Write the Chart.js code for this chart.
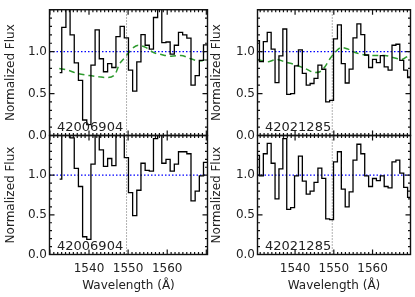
<!DOCTYPE html>
<html>
<head>
<meta charset="utf-8">
<title>CIV spectra</title>
<script src="https://cdn.jsdelivr.net/npm/chart.js@4.4.1/dist/chart.umd.min.js"></script>
<style>
  html, body { margin: 0; padding: 0; background: #fff; }
  #wrap { position: relative; width: 415px; height: 297px; }
  #wrap canvas { position: absolute; left: 0; top: 0; }
</style>
</head>
<body>
<div id="wrap">
  <canvas id="tl" width="415" height="297"></canvas>
  <canvas id="bl" width="415" height="297"></canvas>
  <canvas id="tr" width="415" height="297"></canvas>
  <canvas id="br" width="415" height="297"></canvas>
</div>
<script>
// --- 42006904 (left column) ---
const waveA = [1532.50, 1533.57, 1534.63, 1535.70, 1536.76, 1537.83, 1538.90, 1539.96, 1541.03, 1542.09,
  1543.16, 1544.23, 1545.29, 1546.36, 1547.42, 1548.49, 1549.56, 1550.62, 1551.69, 1552.75,
  1553.82, 1554.89, 1555.95, 1557.02, 1558.08, 1559.15, 1560.22, 1561.28, 1562.35, 1563.41,
  1564.48, 1565.55, 1566.61, 1567.68, 1568.74, 1569.81, 1570.88];
const fluxA = [0.75, 1.29, 1.70, 1.20, 0.865, 0.657, 0.185, 0.13, 0.838, 1.26,
  0.915, 0.76, 0.857, 0.811, 1.18, 1.30, 1.165, 0.78, 0.53, 0.877,
  1.203, 1.076, 1.03, 1.407, 1.65, 1.107, 1.115, 0.97, 1.076, 1.23,
  1.20, 1.16, 0.60, 0.715, 0.896, 1.08, 1.08];
const normA = [0.95, 1.62, 2.2, 1.47, 1.085, 0.857, 0.224, 0.19, 1.14, 1.72,
  1.32, 1.11, 1.21, 1.12, 1.52, 1.52, 1.22, 0.78, 0.49, 0.81,
  1.15, 1.06, 1.05, 1.46, 1.65, 1.15, 1.20, 1.05, 1.14, 1.295,
  1.295, 1.27, 0.675, 0.80, 0.99, 1.16, 1.16];
const contWaveA = [1532.4, 1534.5, 1537.0, 1540.0, 1542.5, 1544.5, 1546.5, 1547.9, 1549.2, 1550.9,
  1552.6, 1554.5, 1556.5, 1558.5, 1561.0, 1563.5, 1566.0, 1568.2, 1569.9, 1570.8];
const contA = [0.80, 0.78, 0.74, 0.715, 0.70, 0.69, 0.72, 0.86, 0.93, 1.03,
  1.076, 1.05, 0.99, 0.965, 0.946, 0.954, 0.915, 0.888, 0.915, 0.96];

// --- 42021285 (right column) ---
const waveB = [1530.30, 1531.31, 1532.31, 1533.32, 1534.33, 1535.33, 1536.34, 1537.35, 1538.35, 1539.36,
  1540.37, 1541.37, 1542.38, 1543.38, 1544.39, 1545.40, 1546.40, 1547.41, 1548.42, 1549.42,
  1550.43, 1551.44, 1552.44, 1553.45, 1554.46, 1555.46, 1556.47, 1557.48, 1558.48, 1559.49,
  1560.50, 1561.50, 1562.51, 1563.51, 1564.52, 1565.53, 1566.53, 1567.54, 1568.55, 1569.55, 1570.56];
const fluxB = [1.13, 0.88, 1.12, 1.23, 1.03, 0.63, 0.95, 1.27, 0.49, 0.50,
  0.83, 1.02, 0.74, 0.60, 0.62, 0.68, 0.84, 0.79, 0.40, 0.42,
  1.153, 1.318, 0.857, 0.626, 0.792, 1.165, 1.33, 1.203, 0.96, 0.811,
  0.907, 0.868, 0.953, 0.819, 0.78, 1.076, 1.088, 0.896, 0.78, 0.69, 0.69];
const normB = [1.25, 0.99, 1.27, 1.40, 1.15, 0.70, 1.08, 1.46, 0.57, 0.59,
  0.99, 1.24, 0.925, 0.76, 0.80, 0.91, 1.09, 0.96, 0.45, 0.44,
  1.168, 1.295, 0.823, 0.60, 0.79, 1.19, 1.39, 1.27, 0.99, 0.857,
  0.958, 0.93, 0.99, 0.857, 0.84, 1.168, 1.19, 1.025, 0.845, 0.72, 0.72];
const contWaveB = [1530.5, 1532.7, 1535.25, 1537.4, 1540.0, 1542.56, 1545.14, 1546.43, 1547.72, 1549.0,
  1550.3, 1552.0, 1553.7, 1555.5, 1558.0, 1560.6, 1563.2, 1565.8, 1567.5, 1569.4, 1570.3];
const contB = [0.907, 0.877, 0.907, 0.877, 0.845, 0.80, 0.75, 0.76, 0.82, 0.915,
  0.99, 1.05, 1.03, 0.99, 0.96, 0.954, 0.954, 0.923, 0.907, 0.954, 0.97];

const yTicks = [0, 0.5, 1.0];
const xTicks = [1540, 1550, 1560];
const lineCentre = 1549.6;

const W = 415, H = 297;
const FONT = { family: '"DejaVu Sans", sans-serif', size: 12 };
const INK = '#222';

// IDL style box: inward ticks on all four sides plus the object id
const framePlugin = {
  id: 'frame',
  afterDatasetsDraw(chart, args, opts) {
    const { ctx, chartArea: a, scales: { x, y } } = chart;
    ctx.save();
    ctx.strokeStyle = '#111';
    ctx.lineWidth = 1.2;
    ctx.beginPath();
    for (let i = 0; i <= 15; i++) {
      const py = y.getPixelForValue(i / 10);
      const len = i % 5 === 0 ? 5 : 2.5;
      ctx.moveTo(a.left, py); ctx.lineTo(a.left + len, py);
      ctx.moveTo(a.right, py); ctx.lineTo(a.right - len, py);
    }
    for (let w = Math.ceil(x.min); w <= x.max; w++) {
      const px = x.getPixelForValue(w);
      const len = w % 10 === 0 ? 5 : 2.5;
      ctx.moveTo(px, a.bottom); ctx.lineTo(px, a.bottom - len);
      ctx.moveTo(px, a.top); ctx.lineTo(px, a.top + len);
    }
    ctx.stroke();
    ctx.lineWidth = 1.4;
    ctx.strokeRect(a.left, a.top, a.right - a.left, a.bottom - a.top);
    ctx.fillStyle = INK;
    ctx.font = '13px "DejaVu Sans", sans-serif';
    ctx.textBaseline = 'alphabetic';
    ctx.fillText(opts.label, a.left + 7.5, a.bottom - 5);
    ctx.restore();
  }
};

function makePanel(id, cfg) {
  const [L, T, R, B] = cfg.area;
  const xH = cfg.showX ? H - B : 0;
  const datasets = [{
    data: cfg.wave.map((w, i) => ({ x: w, y: cfg.flux[i] })),
    stepped: 'middle', borderColor: '#000', borderWidth: 1.3, pointRadius: 0, clip: 0
  }];
  if (cfg.contWave) {
    datasets.push({
      data: cfg.contWave.map((w, i) => ({ x: w, y: cfg.cont[i] })),
      borderColor: '#2e9a2e', borderWidth: 1.5, borderDash: [6, 4],
      cubicInterpolationMode: 'monotone', pointRadius: 0, clip: 0
    });
  }
  datasets.push({
    data: [{ x: cfg.xMin, y: 1 }, { x: cfg.xMax, y: 1 }],
    borderColor: '#0000ff', borderWidth: 1.2, borderDash: [1.5, 2], pointRadius: 0
  });
  datasets.push({
    data: [{ x: lineCentre, y: 0 }, { x: lineCentre, y: 1.5 }],
    borderColor: '#666', borderWidth: 1, borderDash: [1, 2], pointRadius: 0
  });

  return new Chart(document.getElementById(id), {
    type: 'line',
    data: { datasets },
    options: {
      responsive: false,
      animation: false,
      devicePixelRatio: 1,
      layout: { padding: { left: L - cfg.yW, top: T, right: W - R, bottom: H - B - xH } },
      plugins: { legend: { display: false }, tooltip: { enabled: false }, frame: { label: cfg.label } },
      scales: {
        x: {
          type: 'linear', min: cfg.xMin, max: cfg.xMax,
          grid: { display: false, drawTicks: false }, border: { display: false },
          ticks: { display: cfg.showX, padding: 7, font: FONT, color: INK, maxRotation: 0, autoSkip: false,
                   callback: v => String(v) },
          afterBuildTicks: s => { s.ticks = xTicks.map(v => ({ value: v })); },
          afterFit: s => { s.height = xH; },
          title: { display: cfg.showX, text: 'Wavelength (Å)', font: FONT, color: INK, padding: { top: 0, bottom: 4 } }
        },
        y: {
          type: 'linear', min: 0, max: 1.5,
          grid: { display: false, drawTicks: false }, border: { display: false },
          ticks: { padding: 2.5, font: FONT, color: INK, callback: v => v.toFixed(1) },
          afterBuildTicks: s => { s.ticks = yTicks.map(v => ({ value: v })); },
          afterFit: s => { s.width = cfg.yW; },
          title: { display: true, text: 'Normalized Flux', font: FONT, color: INK, padding: { top: 0, bottom: 0 } }
        }
      }
    },
    plugins: [framePlugin]
  });
}

makePanel('tl', { area: [49.5, 5.5, 207.5, 135.5], yW: 46, xMin: 1529.9, xMax: 1570.3, showX: false,
  wave: waveA, flux: fluxA, contWave: contWaveA, cont: contA, label: '42006904' });
makePanel('bl', { area: [49.5, 135.5, 207.5, 254.5], yW: 46, xMin: 1529.9, xMax: 1570.3, showX: true,
  wave: waveA, flux: normA, label: '42006904' });
makePanel('tr', { area: [257.5, 5.5, 410.5, 135.5], yW: 48, xMin: 1530.3, xMax: 1569.8, showX: false,
  wave: waveB, flux: fluxB, contWave: contWaveB, cont: contB, label: '42021285' });
makePanel('br', { area: [257.5, 135.5, 410.5, 254.5], yW: 48, xMin: 1530.3, xMax: 1569.8, showX: true,
  wave: waveB, flux: normB, label: '42021285' });
</script>
</body>
</html>
